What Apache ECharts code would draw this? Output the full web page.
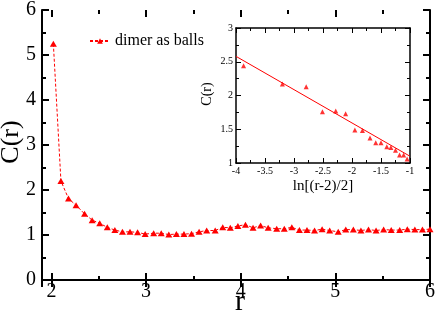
<!DOCTYPE html>
<html>
<head>
<meta charset="utf-8">
<script src="https://cdn.jsdelivr.net/npm/echarts@6/dist/echarts.min.js"></script>
<style>
html,body{margin:0;padding:0;background:#fff;}
#wrap{position:relative;width:436px;height:317px;}
#chart,#xticks,#inset{position:absolute;left:0;top:0;width:436px;height:317px;}
</style>
</head>
<body>
<div id="wrap"><div id="chart"></div><div id="xticks"></div><div id="inset"></div></div>
<script>
// Main plot data: r vs C(r)
var rValues = [2.02,2.10,2.18,2.26,2.35,2.43,2.51,2.59,2.67,2.75,2.83,2.91,2.99,3.08,3.16,3.24,3.32,3.40,3.48,3.56,3.64,3.73,3.81,3.89,3.97,4.05,4.13,4.21,4.29,4.38,4.46,4.54,4.62,4.70,4.78,4.86,4.94,5.03,5.11,5.19,5.27,5.35,5.43,5.51,5.59,5.68,5.76,5.84,5.92,6.00];
var cValues = [5.25,2.20,1.81,1.66,1.47,1.33,1.26,1.17,1.11,1.07,1.07,1.06,1.02,1.04,1.04,1.01,1.02,1.02,1.03,1.07,1.10,1.10,1.17,1.16,1.20,1.23,1.16,1.21,1.16,1.14,1.14,1.17,1.11,1.11,1.10,1.13,1.10,1.07,1.12,1.12,1.10,1.12,1.10,1.12,1.11,1.11,1.13,1.12,1.12,1.13];
// Inset data: ln[(r-2)/2] vs C(r)
var lnValues = [-3.87,-3.20,-2.79,-2.51,-2.28,-2.11,-1.95,-1.82,-1.69,-1.59,-1.50,-1.40,-1.33,-1.25,-1.18,-1.11,-1.05];
var cInsetValues = [2.44,2.17,2.13,1.76,1.77,1.73,1.49,1.48,1.37,1.30,1.30,1.24,1.23,1.19,1.12,1.12,1.06];
// Fitted line in inset
var fitX = [-4, -1];
var fitY = [2.58, 1.10];
var seriesName = 'dimer as balls';

var FONT = 'Liberation Serif';
var RED = '#ff0000';
function pairs(a,b){ var o=[]; for(var i=0;i<a.length;i++) o.push([a[i],b[i]]); return o; }

// main plot geometry
var G = {left:42, right:6, top:10, bottom:37};
var X_MIN = 1.9, X_MAX = 6;
var plotW = 436 - G.left - G.right;
var tickLeft = G.left + (2 - X_MIN) / (X_MAX - X_MIN) * plotW;

// ---------- main chart ----------
var chart = echarts.init(document.getElementById('chart'));
function mLine(){ return {show:true, lineStyle:{color:'#000', width:2}}; }
function mTick(){ return {show:true, inside:true, length:7, lineStyle:{color:'#000', width:2}}; }
function mMinor(){ return {show:true, splitNumber:2, length:4, lineStyle:{color:'#000', width:2}}; }
chart.setOption({
  backgroundColor:'#fff',
  animation:false,
  grid:[{left:G.left, right:G.right, top:G.top, bottom:G.bottom, show:false, outerBoundsMode:'none'}],
  legend:{data:[seriesName], left:84, top:28, itemWidth:20, itemHeight:7, itemGap:5,
          textStyle:{fontFamily:FONT, fontSize:16, color:'#000'}},
  graphic:[
    {type:'text', x:11, y:142, rotation:Math.PI/2,
     style:{text:'C(r)', font:'26px ' + FONT, fill:'#000', align:'center', verticalAlign:'middle'}},
    {type:'text', x:240, y:302,
     style:{text:'r', font:'30px ' + FONT, fill:'#000', align:'center', verticalAlign:'middle'}}
  ],
  xAxis:[
    {type:'value', min:X_MIN, max:X_MAX, position:'bottom',
     axisLine:mLine(), splitLine:{show:false},
     axisTick:mTick(),
     axisLabel:{show:true, fontFamily:FONT, fontSize:20, color:'#000', margin:2}},
    {type:'value', min:X_MIN, max:X_MAX, position:'top',
     axisLine:mLine(), splitLine:{show:false}, axisLabel:{show:false},
     axisTick:mTick()}
  ],
  yAxis:[
    {type:'value', min:0, max:6, interval:1, position:'left',
     axisLine:mLine(), splitLine:{show:false},
     axisTick:mTick(), minorTick:mMinor(),
     axisLabel:{show:true, fontFamily:FONT, fontSize:20, color:'#000', margin:6}},
    {type:'value', min:0, max:6, interval:1, position:'right',
     axisLine:mLine(), splitLine:{show:false}, axisLabel:{show:false},
     axisTick:mTick(), minorTick:mMinor()}
  ],
  series:[{name:seriesName, type:'line', data:pairs(rValues,cValues),
     symbol:'triangle', symbolSize:[7,6], showAllSymbol:true,
     itemStyle:{color:RED}, lineStyle:{color:RED, width:1, type:[3,2]}}]
});

// ---------- minor x ticks (grid starting exactly at r = 2) ----------
var xt = echarts.init(document.getElementById('xticks'));
xt.setOption({
  animation:false,
  grid:[{left:tickLeft, right:G.right, top:G.top, bottom:G.bottom, show:false, outerBoundsMode:'none'}],
  xAxis:[
    {type:'value', min:2, max:6, interval:1, position:'bottom',
     axisLine:{show:false}, splitLine:{show:false}, axisLabel:{show:false},
     axisTick:mTick(), minorTick:mMinor()},
    {type:'value', min:2, max:6, interval:1, position:'top',
     axisLine:{show:false}, splitLine:{show:false}, axisLabel:{show:false},
     axisTick:mTick(), minorTick:mMinor()}
  ],
  yAxis:[{type:'value', min:0, max:6, show:false}],
  series:[]
});

// ---------- inset chart ----------
var inset = echarts.init(document.getElementById('inset'));
function iLine(){ return {show:true, lineStyle:{color:'#000', width:1.5}}; }
function iTick(){ return {show:true, inside:true, length:5, lineStyle:{color:'#000', width:1}}; }
function iMinor(){ return {show:true, splitNumber:2, length:3, lineStyle:{color:'#000', width:1}}; }
inset.setOption({
  animation:false,
  grid:[{left:236, top:28, width:174, height:135, show:true, backgroundColor:'#fff', borderWidth:0, outerBoundsMode:'none'}],
  graphic:[
    {type:'text', x:207, y:94, rotation:Math.PI/2,
     style:{text:'C(r)', font:'14px ' + FONT, fill:'#000', align:'center', verticalAlign:'middle'}},
    {type:'text', x:323, y:186,
     style:{text:'ln[(r-2)/2]', font:'15px ' + FONT, fill:'#000', align:'center', verticalAlign:'middle'}}
  ],
  xAxis:[
    {type:'value', min:-4, max:-1, interval:0.5, position:'bottom',
     axisLine:iLine(), splitLine:{show:false},
     axisTick:iTick(), minorTick:iMinor(),
     axisLabel:{show:true, fontFamily:FONT, fontSize:10, color:'#000', margin:3, showMinLabel:true, showMaxLabel:true}},
    {type:'value', min:-4, max:-1, interval:0.5, position:'top',
     axisLine:iLine(), splitLine:{show:false}, axisLabel:{show:false},
     axisTick:iTick(), minorTick:iMinor()}
  ],
  yAxis:[
    {type:'value', min:1, max:3, interval:0.5, position:'left',
     axisLine:iLine(), splitLine:{show:false},
     axisTick:iTick(), minorTick:iMinor(),
     axisLabel:{show:true, fontFamily:FONT, fontSize:10, color:'#000', margin:3}},
    {type:'value', min:1, max:3, interval:0.5, position:'right',
     axisLine:iLine(), splitLine:{show:false}, axisLabel:{show:false},
     axisTick:iTick(), minorTick:iMinor()}
  ],
  series:[
    {name:'inset', type:'scatter', data:pairs(lnValues,cInsetValues),
     symbol:'triangle', symbolSize:[5,5], itemStyle:{color:RED}},
    {name:'fit', type:'line', data:pairs(fitX,fitY), symbol:'none',
     lineStyle:{color:RED, width:1}}
  ]
});
</script>
</body>
</html>
